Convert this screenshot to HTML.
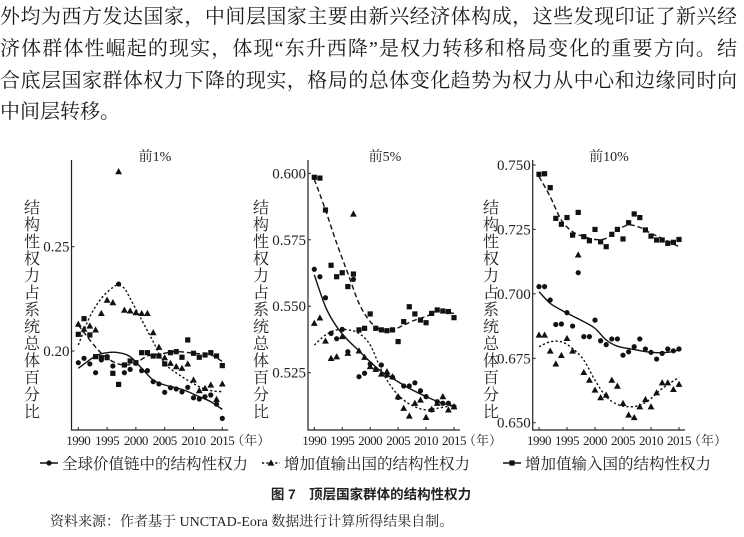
<!DOCTYPE html>
<html><head><meta charset="utf-8"><style>
html,body{margin:0;padding:0;background:#fff;}
body{width:744px;height:537px;overflow:hidden;position:relative;font-family:"Liberation Serif","Noto Serif CJK SC","Noto Sans CJK SC",serif;color:#1a1a1a;}
.ln{position:absolute;left:0;width:737px;font-size:20px;line-height:24px;text-align:justify;text-align-last:justify;white-space:nowrap;}
.ln.last{text-align-last:left;}
svg{position:absolute;left:0;top:0;}
</style></head><body>
<div class="ln" style="top:5px">外均为西方发达国家，中间层国家主要由新兴经济体构成，这些发现印证了新兴经</div>
<div class="ln" style="top:37px">济体群体性崛起的现实，体现“东升西降”是权力转移和格局变化的重要方向。结</div>
<div class="ln" style="top:69px">合底层国家群体权力下降的现实，格局的总体变化趋势为权力从中心和边缘同时向</div>
<div class="ln last" style="top:100px">中间层转移。</div>
<svg id="chart" width="744" height="537"></svg>
<script>
const years=[1990,1991,1992,1993,1994,1995,1996,1997,1998,1999,2000,2001,2002,2003,2004,2005,2006,2007,2008,2009,2010,2011,2012,2013,2014,2015];
const xTicks=[1990,1995,2000,2005,2010,2015];
// Panel 1 (top 1%)
const p1Circle=[0.1944,0.1965,0.1938,0.1896,0.1957,0.1973,0.1928,0.2321,0.1896,0.1912,0.1941,0.1906,0.1906,0.1853,0.1842,0.1802,0.1824,0.1818,0.1804,0.1826,0.1776,0.1770,0.1781,0.1789,0.1745,0.1677];
const p1Tri=[0.2129,0.2105,0.2120,0.2101,0.2180,0.2244,0.2232,0.2860,0.2196,0.2192,0.2184,0.2180,0.2180,0.2088,0.2018,0.1968,0.1941,0.1925,0.1917,0.1938,0.1861,0.1810,0.1821,0.1837,0.1768,0.1842];
const p1Sq=[0.2080,0.2155,0.2077,0.1973,0.1968,0.1968,0.1893,0.1840,0.1933,0.1952,0.1944,0.1992,0.1992,0.1976,0.1976,0.1938,0.1992,0.1997,0.1970,0.2053,0.1989,0.1970,0.1981,0.1992,0.1976,0.1930];
const p1SolidYears=[1990,1993,1995,1997,1999,2001,2003,2005,2008,2011,2013,2015];
const p1Solid=[0.1917,0.1976,0.1992,0.1992,0.1973,0.1917,0.1861,0.1837,0.1816,0.1781,0.1757,0.1720];
const p1DotYears=[1990,1992,1994,1996,1997,1998,1999,2001,2003,2005,2008,2011,2013,2015];
const p1Dot=[0.2029,0.2164,0.2252,0.2305,0.2316,0.2300,0.2252,0.2149,0.2045,0.1941,0.1877,0.1829,0.1810,0.1805];
const p1DashYears=[1990,1992,1994,1996,1998,2000,2002,2004,2007,2010,2013,2015];
const p1Dash=[0.2125,0.2053,0.1989,0.1949,0.1933,0.1944,0.1976,0.1984,0.1997,0.1989,0.1981,0.1949];
const p1Ticks=[0.25,0.20];const p1TickLabels=["0.25","0.20"];
// Panel 2 (top 5%)
const p2Circle=[0.5639,0.5611,0.5532,0.5398,0.5378,0.5413,0.5329,0.5601,0.5235,0.5248,0.5283,0.5263,0.5279,0.5241,0.5233,0.5157,0.5200,0.5200,0.5212,0.5182,0.5160,0.5110,0.5141,0.5135,0.5135,0.5122];
const p2Tri=[0.5436,0.5456,0.5369,0.5304,0.5310,0.5386,0.5323,0.5847,0.5332,0.5308,0.5273,0.5263,0.5245,0.5254,0.5235,0.5160,0.5116,0.5087,0.5135,0.5147,0.5082,0.5112,0.5135,0.5160,0.5110,0.5122];
const p2Sq=[0.5985,0.5982,0.5862,0.5654,0.5611,0.5626,0.5574,0.5621,0.5411,0.5417,0.5471,0.5417,0.5411,0.5408,0.5411,0.5367,0.5442,0.5498,0.5471,0.5448,0.5438,0.5473,0.5486,0.5482,0.5480,0.5457];
const p2SolidYears=[1990,1992,1994,1996,1998,2000,2002,2004,2007,2010,2013,2015];
const p2Solid=[0.5618,0.5498,0.5423,0.5373,0.5332,0.5291,0.5254,0.5229,0.5191,0.5160,0.5135,0.5125];
const p2DotYears=[1990,1992,1994,1996,1998,2000,2002,2004,2006,2008,2010,2012,2015];
const p2Dot=[0.5354,0.5392,0.5411,0.5411,0.5398,0.5354,0.5260,0.5191,0.5147,0.5122,0.5110,0.5116,0.5128];
const p2DashYears=[1990,1992,1994,1996,1998,2000,2002,2004,2006,2008,2010,2012,2015];
const p2Dash=[0.5977,0.5862,0.5737,0.5624,0.5511,0.5442,0.5411,0.5411,0.5429,0.5448,0.5461,0.5480,0.5473];
const p2Ticks=[0.600,0.575,0.550,0.525];const p2TickLabels=["0.600","0.575","0.550","0.525"];
// Panel 3 (top 10%)
const p3Circle=[0.7028,0.7028,0.6976,0.6881,0.6883,0.6927,0.6875,0.7082,0.6834,0.6834,0.6898,0.6818,0.6803,0.6825,0.6825,0.6762,0.6775,0.6795,0.6825,0.6786,0.6773,0.6747,0.6769,0.6786,0.6779,0.6786];
const p3Tri=[0.6840,0.6840,0.6778,0.6728,0.6761,0.6827,0.6778,0.7151,0.6695,0.6665,0.6627,0.6597,0.6607,0.6665,0.6642,0.6575,0.6530,0.6520,0.6562,0.6590,0.6562,0.6616,0.6655,0.6655,0.6629,0.6649];
const p3Sq=[0.7464,0.7466,0.7412,0.7293,0.7270,0.7296,0.7228,0.7316,0.7222,0.7206,0.7250,0.7202,0.7183,0.7231,0.7250,0.7213,0.7276,0.7310,0.7296,0.7248,0.7224,0.7209,0.7209,0.7196,0.7200,0.7211];
const p3SolidYears=[1990,1992,1994,1996,1998,2000,2002,2004,2007,2010,2013,2015];
const p3Solid=[0.7008,0.6963,0.6937,0.6914,0.6892,0.6866,0.6821,0.6797,0.6784,0.6773,0.6773,0.6782];
const p3DotYears=[1990,1992,1994,1996,1998,2000,2002,2004,2006,2008,2010,2012,2015];
const p3Dot=[0.6795,0.6814,0.6814,0.6788,0.6743,0.6665,0.6601,0.6571,0.6562,0.6568,0.6594,0.6633,0.6676];
const p3DashYears=[1990,1992,1994,1996,1998,2000,2002,2004,2006,2008,2010,2012,2015];
const p3Dash=[0.7455,0.7377,0.7286,0.7241,0.7222,0.7211,0.7215,0.7248,0.7267,0.7258,0.7235,0.7215,0.7183];
const p3Ticks=[0.750,0.725,0.700,0.675,0.650];const p3TickLabels=["0.750","0.725","0.700","0.675","0.650"];

const NS="http://www.w3.org/2000/svg";
const svg=document.getElementById('chart');
function mk(tag,attrs,parent){const e=document.createElementNS(NS,tag);for(const k in attrs)e.setAttribute(k,attrs[k]);(parent||svg).appendChild(e);return e;}
function smooth(pts){let d='M'+pts[0][0].toFixed(1)+','+pts[0][1].toFixed(1);
 for(let i=0;i<pts.length-1;i++){const p0=pts[Math.max(0,i-1)],p1=pts[i],p2=pts[i+1],p3=pts[Math.min(pts.length-1,i+2)];
 const c1=[p1[0]+(p2[0]-p0[0])/6,p1[1]+(p2[1]-p0[1])/6],c2=[p2[0]-(p3[0]-p1[0])/6,p2[1]-(p3[1]-p1[1])/6];
 d+=' C'+c1[0].toFixed(1)+','+c1[1].toFixed(1)+' '+c2[0].toFixed(1)+','+c2[1].toFixed(1)+' '+p2[0].toFixed(1)+','+p2[1].toFixed(1);}return d;}
function marker(g,type,x,y,name){let e;
 if(type==='c'){e=mk('circle',{cx:x,cy:y,r:2.6,fill:'#111'},g);}
 else if(type==='t'){e=mk('polygon',{points:`${x},${y-3.6} ${x-3.4},${y+2.6} ${x+3.4},${y+2.6}`,fill:'#111'},g);}
 else {e=mk('rect',{x:x-2.6,y:y-2.6,width:5.2,height:5.2,fill:'#111'},g);}
 
 }
const fontS='"Liberation Serif","Noto Serif CJK SC",serif';
function panel(cfg){
 const g=mk('g',{});
 
 
 const xs=v=>cfg.x0+(v-1990)*(cfg.x1-cfg.x0)/25;
 const ys=v=>cfg.yA+(v-cfg.vA)*(cfg.yB-cfg.yA)/(cfg.vB-cfg.vA);
 const ax=mk('path',{d:`M${cfg.ax},${cfg.top} V${cfg.bot} H${cfg.x1+6}`,stroke:'#222','stroke-width':1.2,fill:'none'},g);
 
 
 cfg.ticks.forEach((t,i)=>{const y=ys(t);
  mk('line',{x1:cfg.ax,x2:cfg.ax+3,y1:y,y2:y,stroke:'#222','stroke-width':1},g);
  const tx=mk('text',{x:cfg.ax-2,y:y+5,'text-anchor':'end','font-size':15,'font-family':fontS,fill:'#222'},g);
  tx.textContent=cfg.tickLabels[i];
  
  });
 xTicks.forEach(t=>{const x=xs(t);
  mk('line',{x1:x,x2:x,y1:cfg.bot,y2:cfg.bot-3,stroke:'#222','stroke-width':1},g);
  const tx=mk('text',{x:x,y:cfg.bot+15,'text-anchor':'middle','font-size':13,'font-family':fontS,fill:'#222','letter-spacing':'-0.5'},g);
  tx.textContent=String(t);
  
  });
 const yr=mk('text',{x:cfg.x1+9,y:cfg.bot+15,'font-size':13,'font-family':fontS,fill:'#222'},g);
 yr.textContent='（年）';
 
 
 const ti=mk('text',{x:cfg.titleX,y:161,'text-anchor':'middle','font-size':14,'font-family':fontS,fill:'#222'},g);
 ti.textContent=cfg.title;
 
 
 const yt=mk('text',{x:cfg.ytX,y:cfg.ytY,'font-size':16,'font-family':fontS,fill:'#222'},g);
 
 
 '结构性权力占系统总体百分比'.split('').forEach((ch,i)=>{const s=mk('tspan',{x:cfg.ytX,dy:i?17:0},yt);s.textContent=ch;});
 const fits=[[cfg.solidY,cfg.solid,'none','fit-line-global'],[cfg.dotY,cfg.dot,'2.2,2.2','fit-line-output'],[cfg.dashY,cfg.dash,'5,3','fit-line-input']];
 fits.forEach(f=>{const pts=f[0].map((yv,i)=>[xs(yv),ys(f[1][i])]);
  const p=mk('path',{d:smooth(pts),fill:'none',stroke:'#111','stroke-width':1.4,'stroke-dasharray':f[2]},g);
  
  });
 years.forEach((yv,i)=>{marker(g,'s',xs(yv),ys(cfg.sq[i]),'point-input');marker(g,'t',xs(yv),ys(cfg.tri[i]),'point-output');marker(g,'c',xs(yv),ys(cfg.circ[i]),'point-global');});
}
panel({name:'panel-top-1pct',title:'前1%',titleX:155,ax:71.5,top:160,bot:430,x0:78.3,x1:222.3,yA:246.7,vA:0.25,yB:351,vB:0.20,ticks:p1Ticks,tickLabels:p1TickLabels,ytX:24,ytY:213,
 circ:p1Circle,tri:p1Tri,sq:p1Sq,solidY:p1SolidYears,solid:p1Solid,dotY:p1DotYears,dot:p1Dot,dashY:p1DashYears,dash:p1Dash});
panel({name:'panel-top-5pct',title:'前5%',titleX:385,ax:308,top:160,bot:430,x0:314.3,x1:454,yA:173.3,vA:0.600,yB:372.7,vB:0.525,ticks:p2Ticks,tickLabels:p2TickLabels,ytX:253,ytY:213,
 circ:p2Circle,tri:p2Tri,sq:p2Sq,solidY:p2SolidYears,solid:p2Solid,dotY:p2DotYears,dot:p2Dot,dashY:p2DashYears,dash:p2Dash});
panel({name:'panel-top-10pct',title:'前10%',titleX:609,ax:532.7,top:160,bot:430,x0:539,x1:679,yA:165,vA:0.750,yB:422.7,vB:0.650,ticks:p3Ticks,tickLabels:p3TickLabels,ytX:483,ytY:213,
 circ:p3Circle,tri:p3Tri,sq:p3Sq,solidY:p3SolidYears,solid:p3Solid,dotY:p3DotYears,dot:p3Dot,dashY:p3DashYears,dash:p3Dash});
// legend
const legendItems=[['全球价值链中的结构性权力','c','none',40],['增加值输出国的结构性权力','t','2.2,2.2',262],['增加值输入国的结构性权力','s','none',503]];
legendItems.forEach(it=>{const g=mk('g',{});
 
 
 mk('line',{x1:it[3],x2:it[3]+18,y1:463,y2:463,stroke:'#111','stroke-width':1.4,'stroke-dasharray':it[2]},g);
 marker(g,it[1],it[3]+9,463,'legend-marker');
 const t=mk('text',{x:it[3]+22,y:469,'font-size':15.5,'font-family':fontS,fill:'#222'},g);t.textContent=it[0];});
const cap=mk('text',{x:371,y:499,'text-anchor':'middle','font-size':13.5,'font-weight':'bold','font-family':'"Liberation Sans","Noto Sans CJK SC",sans-serif',fill:'#222'});
cap.textContent='图 7　顶层国家群体的结构性权力';


const src=mk('text',{x:50,y:526,'font-size':14,'font-family':fontS,fill:'#222'});
src.textContent='资料来源：作者基于 UNCTAD-Eora 数据进行计算所得结果自制。';


</script>
</body></html>
